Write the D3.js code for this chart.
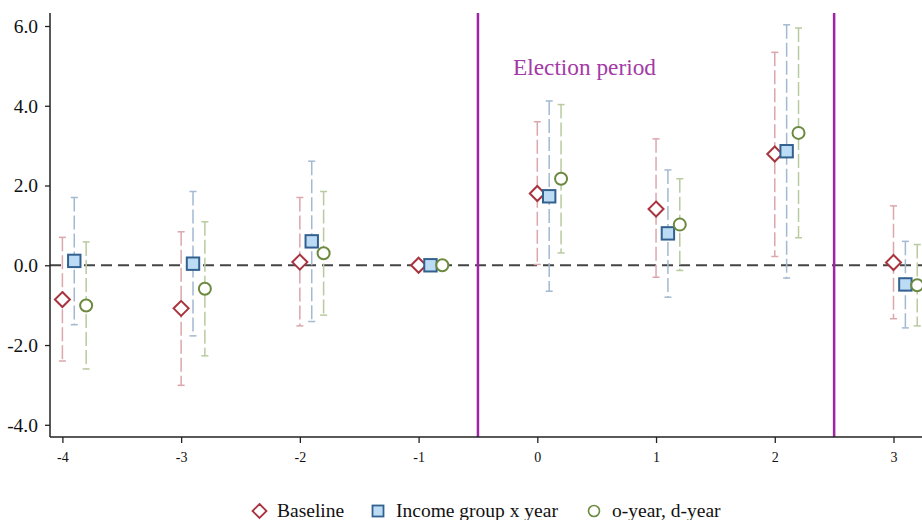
<!DOCTYPE html>
<html>
<head>
<meta charset="utf-8">
<script src="https://cdn.jsdelivr.net/npm/d3@7"></script>
<style>
  body { margin: 0; background: #fff; }
  svg { display: block; }
  svg text { font-family: 'Liberation Serif', 'Times New Roman', serif; }
</style>
</head>
<body>
<div id="chart"></div>
<script>
// event time
var periods = [-4, -3, -2, -1, 0, 1, 2, 3]

// Baseline
var baseEst = [-0.86, -1.08, 0.08, 0, 1.80, 1.41, 2.79, 0.07]
var baseLo  = [-2.40, -3.01, -1.52, 0, 0.02, -0.30, 0.22, -1.34]
var baseHi  = [0.70, 0.84, 1.70, 0, 3.60, 3.17, 5.34, 1.49]

// Income group x year
var incEst = [0.11, 0.04, 0.60, 0, 1.73, 0.80, 2.86, -0.48]
var incLo  = [-1.49, -1.77, -1.41, 0, -0.65, -0.80, -0.32, -1.57]
var incHi  = [1.70, 1.85, 2.61, 0, 4.12, 2.39, 6.03, 0.60]

// o-year, d-year
var oyEst = [-1.01, -0.59, 0.30, 0, 2.17, 1.02, 3.32, -0.50]
var oyLo  = [-2.60, -2.27, -1.25, 0, 0.31, -0.13, 0.69, -1.52]
var oyHi  = [0.585, 1.09, 1.85, 0, 4.03, 2.17, 5.95, 0.52]

var yTicks = [-4, -2, 0, 2, 4, 6]
var electionBounds = [-0.5, 2.5]

var width = 922, height = 520

var svg = d3.select('#chart').append('svg')
  .attr('width', width)
  .attr('height', height)

var x = d3.scaleLinear().domain([-4, 3]).range([62.4, 893.5])
var y = d3.scaleLinear().domain([-4, 6]).range([424.8, 26])

var series = [
  {name: 'Baseline', est: baseEst, lo: baseLo, hi: baseHi, off: 0,
   stroke: '#a8343f', ci: '#dba7ad', shape: 'diamond', fill: '#fff'},
  {name: 'Income group x year', est: incEst, lo: incLo, hi: incHi, off: 0.1,
   stroke: '#33618f', ci: '#a3b9d1', shape: 'square', fill: '#bcdcf5'},
  {name: 'o-year, d-year', est: oyEst, lo: oyLo, hi: oyHi, off: 0.2,
   stroke: '#6c8a3f', ci: '#b9caa0', shape: 'circle', fill: '#fff'}
]

var font = "'Liberation Serif', 'Times New Roman', serif"
var hyphen = function(fmt) { return function(d) { return fmt(d).replace('\u2212', '-') } }

// zero reference line
svg.append('line')
  .attr('x1', 50).attr('x2', width)
  .attr('y1', y(0)).attr('y2', y(0))
  .attr('stroke', '#444').attr('stroke-width', 2)
  .attr('stroke-dasharray', '11,6')

// election period lines
svg.selectAll('.elec')
  .data(electionBounds)
  .enter()
  .append('line')
  .attr('x1', d => x(d)).attr('x2', d => x(d))
  .attr('y1', 13).attr('y2', 437)
  .attr('stroke', '#a123a6').attr('stroke-width', 2.5)

svg.append('text')
  .attr('x', 513).attr('y', 75)
  .style('font-family', font).style('font-size', '23.3px')
  .attr('fill', '#a33aa6')
  .text('Election period')

function drawMarker(g, shape, cx, cy, s) {
  if (shape === 'diamond') {
    var r = 7.5
    g.append('path')
      .attr('d', 'M' + cx + ',' + (cy - r) + 'L' + (cx + r) + ',' + cy + 'L' + cx + ',' + (cy + r) + 'L' + (cx - r) + ',' + cy + 'Z')
      .attr('fill', s.fill).attr('stroke', s.stroke).attr('stroke-width', 2)
  } else if (shape === 'square') {
    var h = 6.2
    g.append('rect')
      .attr('x', cx - h).attr('y', cy - h)
      .attr('width', h * 2).attr('height', h * 2)
      .attr('fill', s.fill).attr('stroke', s.stroke).attr('stroke-width', 2)
  } else {
    g.append('circle')
      .attr('cx', cx).attr('cy', cy).attr('r', 6)
      .attr('fill', s.fill).attr('stroke', s.stroke).attr('stroke-width', 2)
  }
}

// error bars
series.forEach(function(s) {
  var g = svg.append('g')
  periods.forEach(function(p, i) {
    if (s.hi[i] === s.lo[i]) return
    var cx = x(p + s.off)
    g.append('line')
      .attr('x1', cx).attr('x2', cx)
      .attr('y1', y(s.hi[i])).attr('y2', y(s.lo[i]))
      .attr('stroke', s.ci).attr('stroke-width', 1.5)
      .attr('stroke-dasharray', '14,4')
    ;[s.hi[i], s.lo[i]].forEach(function(v) {
      g.append('line')
        .attr('x1', cx - 3.5).attr('x2', cx + 3.5)
        .attr('y1', y(v)).attr('y2', y(v))
        .attr('stroke', s.ci).attr('stroke-width', 1.5)
    })
  })
})

// point estimates
series.forEach(function(s) {
  var g = svg.append('g')
  periods.forEach(function(p, i) {
    drawMarker(g, s.shape, x(p + s.off), y(s.est[i]), s)
  })
})

// y axis
var yAxis = svg.append('g')
  .attr('transform', 'translate(50,0)')
  .call(d3.axisLeft(y).tickValues(yTicks).tickSize(5).tickSizeOuter(0).tickFormat(hyphen(d3.format('.1f'))))
yAxis.attr('font-family', font).attr('font-size', 19.5)
yAxis.select('.domain').attr('d', 'M0,13V437').attr('stroke', '#222').attr('stroke-width', 1.5)
yAxis.selectAll('line').attr('stroke', '#222').attr('stroke-width', 1.3)
yAxis.selectAll('text')
  .attr('font-family', font).attr('font-size', 19.5)
  .style('font-family', font).style('font-size', '19.5px').attr('fill', '#111')
  .attr('x', -12)

// x axis
var xAxis = svg.append('g')
  .attr('transform', 'translate(0,437)')
  .call(d3.axisBottom(x).tickValues(periods).tickSize(6).tickSizeOuter(0).tickFormat(hyphen(d3.format('d'))))
xAxis.attr('font-family', font).attr('font-size', 14)
xAxis.select('.domain').attr('d', 'M50,0H' + width).attr('stroke', '#222').attr('stroke-width', 1.5)
xAxis.selectAll('line').attr('stroke', '#222').attr('stroke-width', 1.3)
xAxis.selectAll('text')
  .attr('font-family', font).attr('font-size', 14)
  .style('font-family', font).style('font-size', '14px').attr('fill', '#111')
  .attr('y', 15)

// legend
var legendX = [259.5, 378, 594]
var legendTextX = [277, 396, 612]
series.forEach(function(s, i) {
  var g = svg.append('g')
  if (s.shape === 'diamond') {
    g.append('path')
      .attr('d', 'M' + legendX[i] + ',' + 504 + 'l7,7l-7,7l-7,-7z')
      .attr('fill', '#fff').attr('stroke', s.stroke).attr('stroke-width', 1.8)
  } else if (s.shape === 'square') {
    g.append('rect')
      .attr('x', legendX[i] - 5.5).attr('y', 505.5)
      .attr('width', 11).attr('height', 11)
      .attr('fill', s.fill).attr('stroke', s.stroke).attr('stroke-width', 1.8)
  } else {
    g.append('circle')
      .attr('cx', legendX[i]).attr('cy', 511).attr('r', 5.5)
      .attr('fill', '#fff').attr('stroke', s.stroke).attr('stroke-width', 1.6)
  }
  g.append('text')
    .attr('x', legendTextX[i]).attr('y', 517)
    .style('font-family', font).style('font-size', '19.5px').attr('fill', '#111')
    .text(s.name)
})
</script>
</body>
</html>
